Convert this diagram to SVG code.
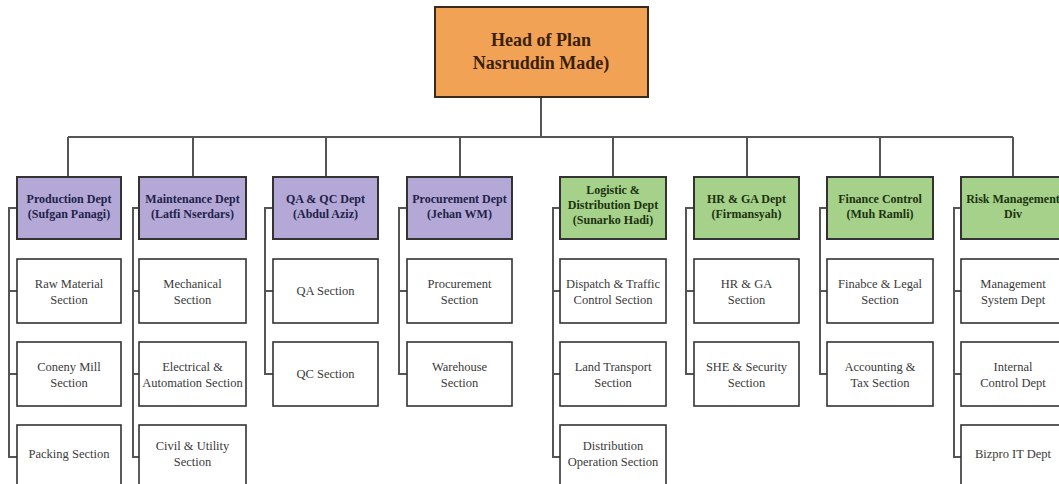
<svg xmlns="http://www.w3.org/2000/svg" width="1059" height="484" viewBox="0 0 1059 484">
  <style>
    .bg { fill: #ffffff; }
    .head { fill: #f2a254; stroke: #3a2a1a; stroke-width: 2; }
    .dept-p { fill: #b4a9d6; stroke: #333; stroke-width: 2; }
    .dept-g { fill: #a6d18a; stroke: #333; stroke-width: 2; }
    .sec { fill: #ffffff; stroke: #333; stroke-width: 1.6; }
    .wire { fill: none; stroke: #555; stroke-width: 2; }
    text { font-family: "Liberation Serif", "Times New Roman", serif; text-anchor: middle; }
    .t-head { font-size: 18px; font-weight: bold; fill: #3a200c; }
    .t-dp { font-size: 12px; font-weight: bold; fill: #22224a; }
    .t-dg { font-size: 12px; font-weight: bold; fill: #1c3310; }
    .t-sec { font-size: 12.5px; fill: #3a3a3a; }
  </style>
  <rect class="bg" x="0" y="0" width="1059" height="484"/>

  <!-- connectors: trunk, bus, drops and section brackets -->
  <g id="connectors" class="wire">
    <path d="M541 97 V137"/>
    <path d="M68 137 H1013"/>
    <path d="M68 137 V177 M193 137 V177 M326 137 V177 M460 137 V177 M613 137 V177 M747 137 V177 M880 137 V177 M1013 137 V177"/>
    <!-- Production -->
    <path d="M17 208 H9 V457 H17 M9 291 H17 M9 374 H17"/>
    <!-- Maintenance -->
    <path d="M139 208 H133 V457 H139 M133 291 H139 M133 374 H139"/>
    <!-- QA & QC -->
    <path d="M273 208 H265 V374 H273 M265 291 H273"/>
    <!-- Procurement -->
    <path d="M407 208 H399 V374 H407 M399 291 H407"/>
    <!-- Logistic -->
    <path d="M560 208 H553 V457 H560 M553 291 H560 M553 374 H560"/>
    <!-- HR & GA -->
    <path d="M694 208 H686 V374 H694 M686 291 H694"/>
    <!-- Finance -->
    <path d="M827 208 H820 V374 H827 M820 291 H827"/>
    <!-- Risk -->
    <path d="M961 208 H954 V457 H961 M954 291 H961 M954 374 H961"/>
  </g>

  <g id="head-of-plant">
    <rect class="head" x="435" y="7" width="213" height="90"/>
    <text class="t-head" x="541" y="46">Head of Plan</text>
    <text class="t-head" x="541" y="69">Nasruddin Made)</text>
  </g>

  <!-- Production -->
  <g id="production-dept">
    <rect class="dept-p" x="17" y="177" width="104" height="62"/>
    <text class="t-dp" x="69" y="203">Production Dept</text>
    <text class="t-dp" x="69" y="218">(Sufgan Panagi)</text>
  </g>
  <g id="raw-material">
    <rect class="sec" x="17" y="259" width="104" height="64"/>
    <text class="t-sec" x="69" y="288">Raw Material</text>
    <text class="t-sec" x="69" y="304">Section</text>
  </g>
  <g id="coneny-mill">
    <rect class="sec" x="17" y="342" width="104" height="64"/>
    <text class="t-sec" x="69" y="371">Coneny Mill</text>
    <text class="t-sec" x="69" y="387">Section</text>
  </g>
  <g id="packing">
    <rect class="sec" x="17" y="425" width="104" height="64"/>
    <text class="t-sec" x="69" y="458">Packing Section</text>
  </g>

  <!-- Maintenance -->
  <g id="maintenance-dept">
    <rect class="dept-p" x="139" y="177" width="107" height="62"/>
    <text class="t-dp" x="192.5" y="203">Maintenance Dept</text>
    <text class="t-dp" x="192.5" y="218">(Latfi Nserdars)</text>
  </g>
  <g id="mechanical">
    <rect class="sec" x="139" y="259" width="107" height="64"/>
    <text class="t-sec" x="192.5" y="288">Mechanical</text>
    <text class="t-sec" x="192.5" y="304">Section</text>
  </g>
  <g id="electrical">
    <rect class="sec" x="139" y="342" width="107" height="64"/>
    <text class="t-sec" x="192.5" y="371">Electrical &amp;</text>
    <text class="t-sec" x="192.5" y="387">Automation Section</text>
  </g>
  <g id="civil-utility">
    <rect class="sec" x="139" y="425" width="107" height="64"/>
    <text class="t-sec" x="192.5" y="450">Civil &amp; Utility</text>
    <text class="t-sec" x="192.5" y="466">Section</text>
  </g>

  <!-- QA & QC -->
  <g id="qa-qc-dept">
    <rect class="dept-p" x="273" y="177" width="105" height="62"/>
    <text class="t-dp" x="325.5" y="203">QA &amp; QC Dept</text>
    <text class="t-dp" x="325.5" y="218">(Abdul Aziz)</text>
  </g>
  <g id="qa-section">
    <rect class="sec" x="273" y="259" width="105" height="64"/>
    <text class="t-sec" x="325.5" y="295">QA Section</text>
  </g>
  <g id="qc-section">
    <rect class="sec" x="273" y="342" width="105" height="64"/>
    <text class="t-sec" x="325.5" y="378">QC Section</text>
  </g>

  <!-- Procurement -->
  <g id="procurement-dept">
    <rect class="dept-p" x="407" y="177" width="105" height="62"/>
    <text class="t-dp" x="459.5" y="203">Procurement Dept</text>
    <text class="t-dp" x="459.5" y="218">(Jehan WM)</text>
  </g>
  <g id="procurement-section">
    <rect class="sec" x="407" y="259" width="105" height="64"/>
    <text class="t-sec" x="459.5" y="288">Procurement</text>
    <text class="t-sec" x="459.5" y="304">Section</text>
  </g>
  <g id="warehouse">
    <rect class="sec" x="407" y="342" width="105" height="64"/>
    <text class="t-sec" x="459.5" y="371">Warehouse</text>
    <text class="t-sec" x="459.5" y="387">Section</text>
  </g>

  <!-- Logistic & Distribution -->
  <g id="logistic-dept">
    <rect class="dept-g" x="560" y="177" width="106" height="62"/>
    <text class="t-dg" x="613" y="194">Logistic &amp;</text>
    <text class="t-dg" x="613" y="209">Distribution Dept</text>
    <text class="t-dg" x="613" y="224">(Sunarko Hadi)</text>
  </g>
  <g id="dispatch">
    <rect class="sec" x="560" y="259" width="106" height="64"/>
    <text class="t-sec" x="613" y="288">Dispatch &amp; Traffic</text>
    <text class="t-sec" x="613" y="304">Control Section</text>
  </g>
  <g id="land-transport">
    <rect class="sec" x="560" y="342" width="106" height="64"/>
    <text class="t-sec" x="613" y="371">Land Transport</text>
    <text class="t-sec" x="613" y="387">Section</text>
  </g>
  <g id="distribution-operation">
    <rect class="sec" x="560" y="425" width="106" height="64"/>
    <text class="t-sec" x="613" y="450">Distribution</text>
    <text class="t-sec" x="613" y="466">Operation Section</text>
  </g>

  <!-- HR & GA -->
  <g id="hr-ga-dept">
    <rect class="dept-g" x="694" y="177" width="105" height="62"/>
    <text class="t-dg" x="746.5" y="203">HR &amp; GA Dept</text>
    <text class="t-dg" x="746.5" y="218">(Firmansyah)</text>
  </g>
  <g id="hr-ga-section">
    <rect class="sec" x="694" y="259" width="105" height="64"/>
    <text class="t-sec" x="746.5" y="288">HR &amp; GA</text>
    <text class="t-sec" x="746.5" y="304">Section</text>
  </g>
  <g id="she-security">
    <rect class="sec" x="694" y="342" width="105" height="64"/>
    <text class="t-sec" x="746.5" y="371">SHE &amp; Security</text>
    <text class="t-sec" x="746.5" y="387">Section</text>
  </g>

  <!-- Finance -->
  <g id="finance-control">
    <rect class="dept-g" x="827" y="177" width="106" height="62"/>
    <text class="t-dg" x="880" y="203">Finance Control</text>
    <text class="t-dg" x="880" y="218">(Muh Ramli)</text>
  </g>
  <g id="finance-legal">
    <rect class="sec" x="827" y="259" width="106" height="64"/>
    <text class="t-sec" x="880" y="288">Finabce &amp; Legal</text>
    <text class="t-sec" x="880" y="304">Section</text>
  </g>
  <g id="accounting-tax">
    <rect class="sec" x="827" y="342" width="106" height="64"/>
    <text class="t-sec" x="880" y="371">Accounting &amp;</text>
    <text class="t-sec" x="880" y="387">Tax Section</text>
  </g>

  <!-- Risk Management -->
  <g id="risk-management">
    <rect class="dept-g" x="961" y="177" width="106" height="62"/>
    <text class="t-dg" x="1013" y="203">Risk Management</text>
    <text class="t-dg" x="1013" y="218">Div</text>
  </g>
  <g id="management-system">
    <rect class="sec" x="961" y="259" width="106" height="64"/>
    <text class="t-sec" x="1013" y="288">Management</text>
    <text class="t-sec" x="1013" y="304">System Dept</text>
  </g>
  <g id="internal-control">
    <rect class="sec" x="961" y="342" width="106" height="64"/>
    <text class="t-sec" x="1013" y="371">Internal</text>
    <text class="t-sec" x="1013" y="387">Control Dept</text>
  </g>
  <g id="bizpro-it">
    <rect class="sec" x="961" y="425" width="106" height="64"/>
    <text class="t-sec" x="1013" y="458">Bizpro IT Dept</text>
  </g>
</svg>
